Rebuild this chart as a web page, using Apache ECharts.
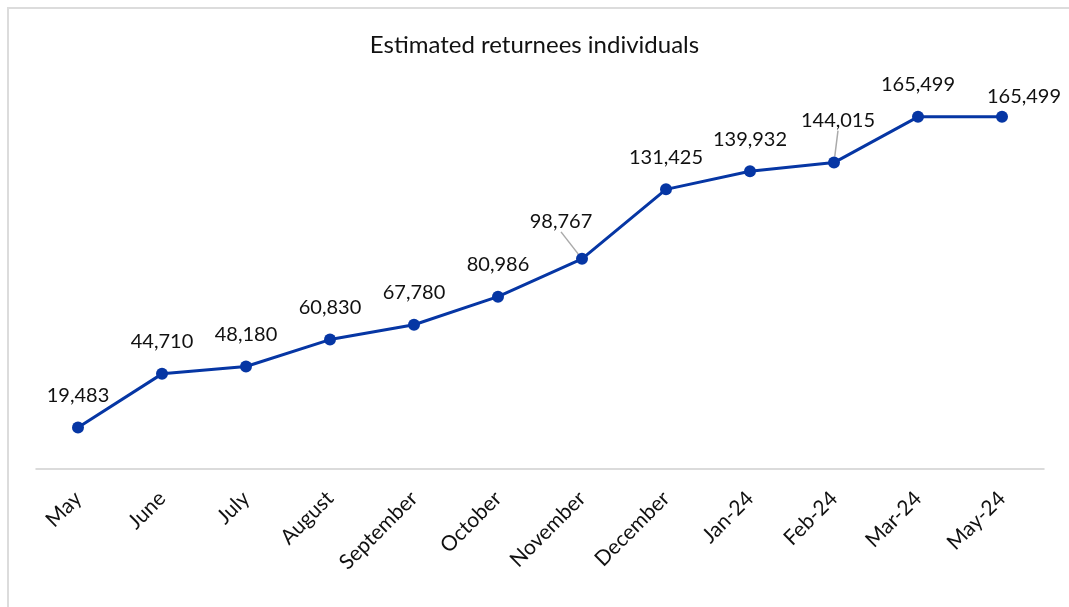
<!DOCTYPE html>
<html>
<head>
<meta charset="utf-8">
<script src="https://cdn.jsdelivr.net/npm/echarts@6/dist/echarts.min.js"></script>
<style>
html, body { margin: 0; padding: 0; background: #fff; }
#chart { width: 1069px; height: 607px; }
</style>
</head>
<body>
<div id="chart"></div>
<script>
// data
var months = ['May', 'June', 'July', 'August', 'September', 'October', 'November',
	'December', 'Jan-24', 'Feb-24', 'Mar-24', 'May-24'];
var returnees = [19483, 44710, 48180, 60830, 67780, 80986, 98767,
	131425, 139932, 144015, 165499, 165499];
// labels pushed off their point (with a leader line)
var movedLabels = { 6: [-21, -5], 9: [4, -10], 11: [22, 12] };

var font = 'Lato, "Open Sans", sans-serif';
var chart = echarts.init(document.getElementById('chart'));

var seriesData = returnees.map(function(v, i) {
	var item = { value: v };
	if (movedLabels[i]) {
		item.labelLine = { show: i != 11 };
	}
	return item;
});

chart.setOption({
	animation: false,
	backgroundColor: '#fff',
	title: {
		text: 'Estimated returnees individuals',
		left: 'center',
		top: 28,
		textStyle: { fontFamily: font, fontSize: 24, fontWeight: 'normal', color: '#111' }
	},
	grid: { left: 36, right: 25, top: 86, bottom: 138, containLabel: false },
	xAxis: {
		type: 'category',
		data: months,
		boundaryGap: true,
		axisLine: { lineStyle: { color: '#d0d0d0', width: 1.5 } },
		axisTick: { show: false },
		axisLabel: {
			rotate: 45,
			margin: 26,
			interval: 0,
			fontFamily: font,
			fontSize: 21,
			color: '#111'
		}
	},
	yAxis: {
		type: 'value',
		min: 0,
		max: 180000,
		show: false,
		splitLine: { show: false }
	},
	series: [{
		type: 'line',
		data: seriesData,
		symbol: 'circle',
		symbolSize: 12,
		lineStyle: { color: '#0636a4', width: 3 },
		itemStyle: { color: '#0636a4' },
		label: {
			show: true,
			position: 'top',
			distance: 16,
			fontFamily: font,
			fontSize: 20,
			color: '#111',
			formatter: function(p) { return p.value.toLocaleString('en-US'); }
		},
		labelLine: { show: false, lineStyle: { color: '#aaa', width: 1.5 } },
		labelLayout: function(p) {
			var m = movedLabels[p.dataIndex];
			if (m) return { dx: m[0], dy: m[1] };
			return {};
		}
	}],
	graphic: [{
		type: 'rect',
		shape: { x: 8, y: 8, width: 1200, height: 800 },
		style: { fill: 'none', stroke: '#dcdcdc', lineWidth: 2 },
		silent: true
	}]
});
</script>
</body>
</html>
